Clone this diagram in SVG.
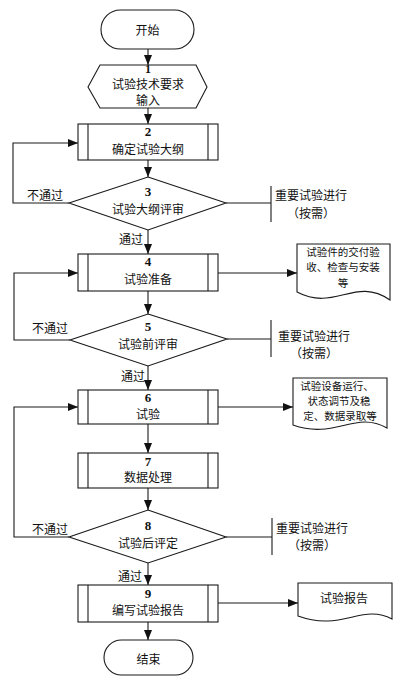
<svg xmlns="http://www.w3.org/2000/svg" width="406" height="686" viewBox="0 0 406 686">
<style>
.s{fill:#fff;stroke:#1a1a1a;stroke-width:1.1}
.l{fill:none;stroke:#1a1a1a;stroke-width:1.1}
.t{font-family:"Noto Sans CJK SC","Noto Sans CJK JP",sans-serif;font-size:12px;fill:#111;text-anchor:middle;dominant-baseline:central}
.d{font-family:"Noto Sans CJK SC","Noto Sans CJK JP",sans-serif;font-size:10.5px;fill:#111;text-anchor:middle;dominant-baseline:central}
.n{font-family:"Liberation Serif",serif;font-size:13px;font-weight:bold;fill:#111;text-anchor:middle;dominant-baseline:central}
.n1{font-family:"Liberation Serif",serif;font-size:12px;font-weight:bold;fill:#111;text-anchor:middle;dominant-baseline:central}
.a{font-family:"Noto Sans CJK SC","Noto Sans CJK JP",sans-serif;font-size:12px;fill:#111;text-anchor:middle;dominant-baseline:central}
</style>
<defs>
<marker id="ar" viewBox="0 0 10 8" refX="10" refY="4" markerWidth="10" markerHeight="8" markerUnits="userSpaceOnUse" orient="auto">
<path d="M0,0 L10,4 L0,8 Z" fill="#111"/>
</marker>
</defs>
<rect width="406" height="686" fill="#fff"/>

<g id="connectors">
<path class="l" d="M148,49 V65" marker-end="url(#ar)"/>
<path class="l" d="M148,108 V124" marker-end="url(#ar)"/>
<path class="l" d="M148,160 V177" marker-end="url(#ar)"/>
<path class="l" d="M148,230 V254" marker-end="url(#ar)"/>
<path class="l" d="M148,291 V314" marker-end="url(#ar)"/>
<path class="l" d="M148,366 V390" marker-end="url(#ar)"/>
<path class="l" d="M148,424 V453" marker-end="url(#ar)"/>
<path class="l" d="M148,488 V510" marker-end="url(#ar)"/>
<path class="l" d="M148,563 V585" marker-end="url(#ar)"/>
<path class="l" d="M148,622 V640" marker-end="url(#ar)"/>
<path class="l" d="M69,203 H13 V143 H78" marker-end="url(#ar)"/>
<path class="l" d="M70,340 H14 V273 H78" marker-end="url(#ar)"/>
<path class="l" d="M69,537 H14 V407 H78" marker-end="url(#ar)"/>
<path class="l" d="M218,273 H297" marker-end="url(#ar)"/>
<path class="l" d="M218,407 H293" marker-end="url(#ar)"/>
<path class="l" d="M218,603 H298" marker-end="url(#ar)"/>
<path class="l" d="M226,203 H271 M271,186 V222"/>
<path class="l" d="M227,339 H271 M271,320 V357"/>
<path class="l" d="M226,537 H272 M272,518 V555"/>
<text class="a" x="45" y="194">不通过</text>
<text class="a" x="50" y="327">不通过</text>
<text class="a" x="50" y="528">不通过</text>
<text class="a" x="131" y="238">通过</text>
<text class="a" x="133" y="375">通过</text>
<text class="a" x="130" y="575">通过</text>
</g>

<g id="start">
<rect class="s" x="101" y="10" width="93" height="39" rx="19.5"/>
<text class="t" x="147.5" y="29">开始</text>
</g>

<g id="n1">
<polygon class="s" points="88,87 100,65 196,65 207,87 196,108 100,108"/>
<text class="n1" x="148" y="69">1</text>
<text class="t" x="148" y="83">试验技术要求</text>
<text class="t" x="148" y="99">输入</text>
</g>

<g id="n2">
<rect class="s" x="78" y="124" width="140" height="36"/>
<path class="l" d="M88,124 V160 M208,124 V160"/>
<text class="n" x="148" y="131">2</text>
<text class="t" x="148" y="148">确定试验大纲</text>
</g>

<g id="n3">
<polygon class="s" points="148,177 226,203 148,230 69,203"/>
<text class="n" x="148" y="191">3</text>
<text class="t" x="148" y="208">试验大纲评审</text>
</g>
<g id="note3">
<text class="a" x="311" y="194">重要试验进行</text>
<text class="a" x="311" y="212">（按需）</text>
</g>

<g id="n4">
<rect class="s" x="78" y="254" width="140" height="37"/>
<path class="l" d="M88,254 V291 M208,254 V291"/>
<text class="n" x="148" y="261">4</text>
<text class="t" x="148" y="278">试验准备</text>
</g>
<g id="doc4">
<path class="s" d="M297,244 H390 V300 C355,276 335,312 297,292 Z"/>
<text class="d" x="343" y="251">试验件的交付验</text>
<text class="d" x="343" y="266.5">收、检查与安装</text>
<text class="d" x="343" y="282">等</text>
</g>

<g id="n5">
<polygon class="s" points="148,314 227,339 148,366 70,340"/>
<text class="n" x="148" y="326">5</text>
<text class="t" x="148" y="343">试验前评审</text>
</g>
<g id="note5">
<text class="a" x="314" y="335">重要试验进行</text>
<text class="a" x="314" y="352.5">（按需）</text>
</g>

<g id="n6">
<rect class="s" x="78" y="390" width="140" height="34"/>
<path class="l" d="M88,390 V424 M208,390 V424"/>
<text class="n" x="148" y="397">6</text>
<text class="t" x="148" y="413">试验</text>
</g>
<g id="doc6">
<path class="s" d="M293,378 H387 V428 C355,410 335,440 293,425 Z"/>
<text class="d" x="337" y="385">试验设备运行、</text>
<text class="d" x="339" y="400">状态调节及稳</text>
<text class="d" x="340" y="415">定、数据录取等</text>
</g>

<g id="n7">
<rect class="s" x="78" y="453" width="140" height="35"/>
<path class="l" d="M88,453 V488 M208,453 V488"/>
<text class="n" x="148" y="461">7</text>
<text class="t" x="148" y="476">数据处理</text>
</g>

<g id="n8">
<polygon class="s" points="148,510 226,537 148,563 69,537"/>
<text class="n" x="148" y="525">8</text>
<text class="t" x="148" y="542">试验后评定</text>
</g>
<g id="note8">
<text class="a" x="312" y="527">重要试验进行</text>
<text class="a" x="312" y="544">（按需）</text>
</g>

<g id="n9">
<rect class="s" x="78" y="585" width="140" height="37"/>
<path class="l" d="M88,585 V622 M208,585 V622"/>
<text class="n" x="148" y="593">9</text>
<text class="t" x="148" y="609">编写试验报告</text>
</g>
<g id="doc9">
<path class="s" d="M298,583 H392 V619 C362,603 342,632 298,616 Z"/>
<text class="t" x="344" y="597">试验报告</text>
</g>

<g id="end">
<rect class="s" x="104" y="640" width="89" height="35" rx="17.5"/>
<text class="t" x="148.5" y="658">结束</text>
</g>
</svg>
